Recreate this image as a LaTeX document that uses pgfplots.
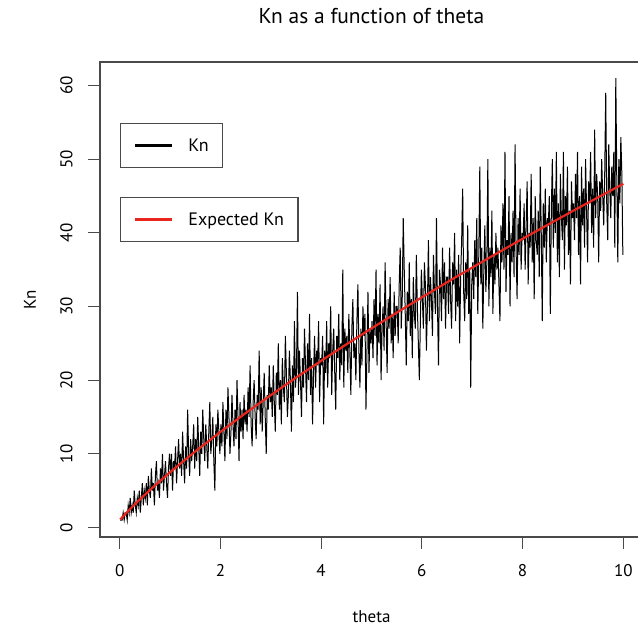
\documentclass[border=0pt]{standalone}
\usepackage{pgfplots}
\usepackage{pgfplotstable}
\pgfplotsset{compat=1.18}
\usepackage{fontspec}
\setmainfont{PT Sans}
\definecolor{axisgray}{HTML}{4A4A4A}
\definecolor{rline}{HTML}{E8261E}

\pgfplotstableread[row sep=\\]{
Kn\\
1\\1\\1\\2\\1\\2\\2\\1\\3\\2\\4\\2\\3\\2\\5\\3\\2\\4\\3\\5\\2\\4\\6\\3\\5\\
4\\6\\3\\7\\5\\4\\8\\5\\6\\3\\7\\9\\5\\6\\4\\8\\6\\10\\5\\7\\9\\6\\4\\8\\10\\
7\\10\\5\\9\\8\\11\\6\\9\\12\\8\\10\\7\\13\\9\\6\\11\\8\\16\\10\\7\\12\\9\\11\\14\\8\\
12\\9\\15\\11\\7\\13\\10\\16\\12\\9\\14\\11\\8\\13\\17\\10\\12\\15\\9\\5\\14\\11\\16\\13\\10\\
14\\11\\17\\13\\9\\16\\12\\19\\15\\10\\13\\18\\14\\11\\16\\12\\20\\15\\9\\17\\13\\16\\12\\18\\14\\
16\\13\\19\\15\\22\\14\\11\\17\\20\\15\\12\\18\\16\\24\\14\\19\\13\\17\\21\\15\\10\\18\\16\\22\\17\\
19\\15\\22\\17\\13\\21\\18\\25\\16\\20\\14\\23\\19\\17\\26\\21\\15\\18\\24\\20\\13\\22\\17\\28\\19\\
21\\32\\18\\24\\20\\15\\23\\19\\27\\22\\17\\25\\20\\29\\18\\23\\14\\21\\26\\19\\24\\22\\28\\17\\23\\
22\\26\\14\\24\\21\\28\\19\\25\\23\\30\\18\\24\\27\\21\\16\\26\\23\\29\\20\\25\\22\\35\\19\\27\\24\\
26\\21\\29\\24\\18\\27\\31\\23\\25\\20\\28\\33\\24\\19\\27\\22\\30\\26\\29\\16\\24\\32\\21\\27\\25\\
28\\23\\31\\26\\35\\22\\29\\25\\33\\20\\27\\30\\24\\36\\28\\21\\31\\27\\34\\25\\29\\23\\32\\26\\30\\
30\\25\\33\\38\\27\\31\\42\\35\\29\\22\\32\\28\\36\\26\\31\\23\\34\\29\\27\\37\\30\\25\\20\\28\\35\\
31\\27\\36\\33\\24\\30\\39\\28\\34\\31\\26\\37\\32\\29\\42\\30\\22\\35\\33\\28\\38\\31\\36\\27\\34\\
34\\29\\38\\31\\27\\36\\33\\40\\28\\35\\30\\37\\25\\34\\39\\46\\32\\28\\36\\31\\41\\29\\35\\19\\33\\
36\\31\\39\\34\\42\\29\\37\\49\\33\\38\\27\\35\\41\\32\\36\\50\\30\\38\\34\\43\\29\\37\\33\\40\\35\\
38\\33\\28\\41\\36\\44\\35\\51\\32\\39\\37\\45\\30\\40\\36\\43\\34\\52\\38\\31\\42\\37\\46\\35\\40\\
39\\44\\35\\41\\47\\33\\40\\38\\48\\36\\42\\31\\45\\39\\37\\43\\34\\49\\40\\28\\44\\38\\46\\36\\42\\
41\\45\\29\\43\\50\\38\\46\\40\\51\\36\\44\\34\\48\\42\\39\\51\\35\\45\\41\\49\\37\\43\\33\\47\\42\\
44\\39\\48\\42\\51\\37\\45\\33\\49\\41\\46\\38\\50\\43\\36\\47\\44\\51\\40\\46\\38\\54\\42\\48\\45\\
36\\47\\43\\50\\45\\41\\48\\59\\44\\39\\52\\46\\42\\49\\45\\51\\38\\61\\47\\36\\50\\44\\53\\48\\37\\
}\kndata

\pgfplotsset{
  common/.style={
    at={(100pt,91pt)}, anchor=south west,
    scale only axis, width=543pt, height=475pt,
    xmin=-0.39, xmax=10.39, ymin=-1.3, ymax=63.2,
  },
  legbox/.style={
    legend cell align=left,
    legend style={draw=axisgray, line width=1.2pt, fill=white,
      font=\fontsize{18}{21}\selectfont,
      inner xsep=13pt, inner ysep=14pt,
      column sep=14pt,
      nodes={inner sep=1pt}},
    legend image code/.code={\draw[##1, line width=2.8pt] (0pt,0pt) -- (37pt,0pt);},
  },
}

\begin{document}
\begin{tikzpicture}
\useasboundingbox (0pt,0pt) rectangle (638pt,628pt);
\begin{axis}[common, legbox,
  axis line style={axisgray, line width=1.1pt},
  tick style={axisgray, line width=1.1pt},
  tick align=outside, major tick length=12pt,
  xtick pos=bottom, ytick pos=left,
  xtick={0,2,4,6,8,10}, ytick={0,10,20,30,40,50,60},
  /pgf/number format/assume math mode=true,
  ticklabel style={font=\fontsize{17}{20}\selectfont},
  xticklabel style={yshift=-12pt},
  yticklabel style={rotate=90, anchor=south},
  yticklabel shift=12pt,
  xlabel={theta}, ylabel={Kn},
  label style={font=\fontsize{17}{20}\selectfont},
  xlabel style={at={(axis description cs:0.5,-0.1684)}, anchor=center},
  ylabel style={at={(axis description cs:-0.1289,0.5)}, anchor=center, rotate=0},
  title={Kn as a function of theta},
  title style={at={(axis description cs:0.5,1.084)}, anchor=center, font=\fontsize{21.5}{25}\selectfont},
  legend style={at={(0.0368,0.8716)}, anchor=north west},
]
\addplot[black, line width=1pt] table[x expr=\coordindex*0.02+0.01, y=Kn] {\kndata};
\addlegendentry{Kn}
\end{axis}
\begin{axis}[common, legbox, hide axis,
  legend style={at={(0.0368,0.716)}, anchor=north west},
]
\addplot[rline, line width=2.2pt] coordinates {
(0.01,1.075)(0.05,1.370)(0.1,1.733)(0.2,2.439)(0.25,2.784)(0.35,3.459)
(0.5,4.436)(0.75,5.996)(1,7.486)(1.5,10.31)(2,12.97)(2.5,15.52)(3,17.96)
(3.5,20.33)(4,22.62)(4.5,24.85)(5,27.03)(5.5,29.16)(6,31.24)(6.5,33.29)
(7,35.29)(7.5,37.26)(8,39.20)(8.5,41.10)(9,42.98)(9.5,44.83)(10,46.65)};
\addlegendentry{Expected Kn}
\end{axis}
\end{tikzpicture}
\end{document}
